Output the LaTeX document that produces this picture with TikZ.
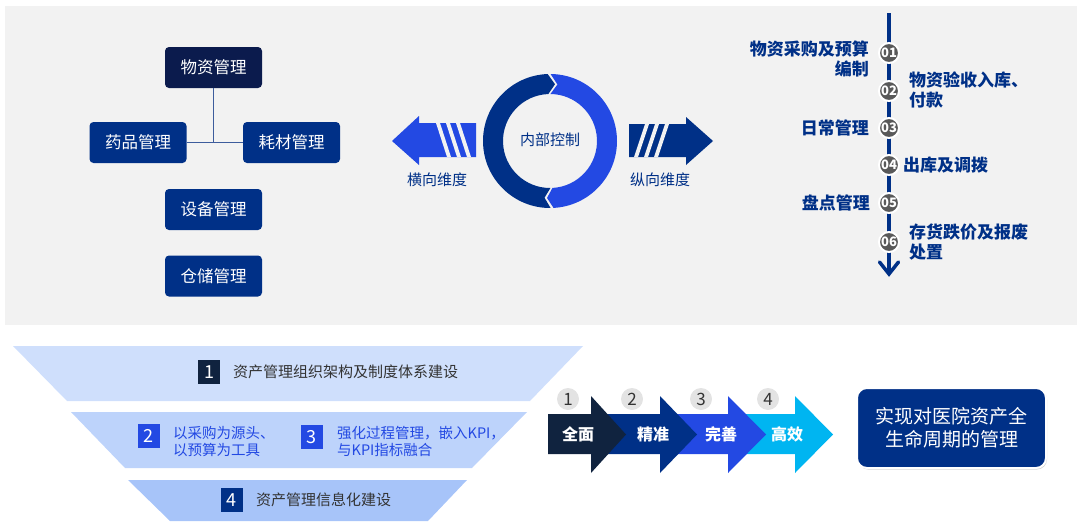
\documentclass[tikz,border=0pt]{standalone}
\usepackage{fontspec}
\setmainfont{Noto Sans CJK SC}
\usetikzlibrary{shadows}
\definecolor{bg}{HTML}{F2F2F2}
\definecolor{navy}{HTML}{0B1B4D}
\definecolor{dblue}{HTML}{003087}
\definecolor{bblue}{HTML}{2349E3}
\definecolor{slate}{HTML}{10233F}
\definecolor{cyanA}{HTML}{00B5F1}
\definecolor{fA}{HTML}{CFDFFC}
\definecolor{fB}{HTML}{BDD3FB}
\definecolor{fC}{HTML}{A7C4F9}
\definecolor{tgray}{HTML}{595959}
\definecolor{txt}{HTML}{333333}
\definecolor{cgray}{HTML}{E3E3E3}
\definecolor{conn}{HTML}{3D5C9C}
\begin{document}
\begin{tikzpicture}[x=1pt,y=-1pt,
  mbox/.style={rounded corners=4pt, minimum width=97pt, minimum height=41pt, text=white, inner sep=0pt, font=\fontsize{16.5}{19}\selectfont},
  tnum/.style={circle, fill=tgray, draw=white, line width=2pt, minimum size=20pt, inner sep=0pt, text=white, font=\bfseries\fontsize{13}{13}\selectfont},
  tlab/.style={text=dblue, inner sep=0pt, font=\bfseries\fontsize{17}{20}\selectfont},
  dimlab/.style={text=dblue, inner sep=0pt, font=\fontsize{15}{18}\selectfont},
  nbox/.style={minimum width=22pt, minimum height=24pt, inner sep=0pt, text=white, font=\fontsize{18}{18}\selectfont},
  ftxt/.style={anchor=west, inner sep=0pt, font=\fontsize{15}{17}\selectfont},
  alab/.style={text=white, inner sep=0pt, font=\bfseries\fontsize{16}{16}\selectfont},
  acirc/.style={circle, fill=cgray, minimum size=22pt, inner sep=0pt, text=txt, font=\fontsize{17}{17}\selectfont},
]
\useasboundingbox (0,0) rectangle (1080,525);
\fill[bg] (5,6) rectangle (1077,325);

% ---- left tree ----
\node[mbox, fill=navy] (wz) at (213.5,67.5) {物资管理};
\node[mbox, fill=dblue] (yp) at (138,142.5) {药品管理};
\node[mbox, fill=dblue] (hc) at (291.5,142.5) {耗材管理};
\node[mbox, fill=dblue] (sb) at (213.5,209.5) {设备管理};
\node[mbox, fill=dblue] (cc) at (213.5,276) {仓储管理};
\coordinate (jn) at (213.5,142.5);
\draw[conn, line width=1.5pt] (wz.south) -- (jn);
\draw[conn, line width=1.5pt] (yp.east) -- (hc.west);

% ---- ring ----
\begin{scope}[shift={(550,141)}]
\fill[dblue] (-270.5:67) arc[start angle=-270.5, end angle=-92, radius=67] -- (-85:57) -- (-92:47) arc[start angle=-92, end angle=-270.5, radius=47] -- (-264.5:57) -- cycle;
\fill[bblue] (-89.5:67) arc[start angle=-89.5, end angle=87, radius=67] -- (93:57) -- (87:47) arc[start angle=87, end angle=-89.5, radius=47] -- (-82.5:57) -- cycle;
\end{scope}
\node[dimlab] (nk) at (550,140) {内部控制};

% left arrow
\fill[bblue] (392,141) -- (419,116) -- (419,123) -- (476,123) -- (476,157) -- (419,157) -- (419,165) -- cycle;
\foreach \t in {436,446,456}{
  \fill[bg] (\t,123) -- (\t+4,123) -- (\t+15,157) -- (\t+11,157) -- cycle;
}
\node[dimlab] (hx) at (437,180) {横向维度};
% right arrow
\fill[dblue] (629,124) -- (686,124) -- (686,117) -- (713,141) -- (686,165) -- (686,157) -- (629,157) -- cycle;
\foreach \b in {634,644,654}{
  \fill[bg] (\b,157) -- (\b+4,157) -- (\b+15,124) -- (\b+11,124) -- cycle;
}
\node[dimlab] (zx) at (660,180) {纵向维度};

% ---- timeline ----
\coordinate (ttop) at (889,13);
\coordinate (tbot) at (889,274);
\coordinate (tl) at (879.5,262);
\coordinate (tr) at (898.5,262);
\draw[dblue, line width=3.5pt] (ttop) -- (tbot);
\draw[dblue, line width=3.5pt, line cap=round, line join=miter] (tl) -- (tbot) -- (tr);
\node[tnum] (t1) at (889,53) {01};
\node[tnum] (t2) at (889,91) {02};
\node[tnum] (t3) at (889,128) {03};
\node[tnum] (t4) at (889,165) {04};
\node[tnum] (t5) at (889,203) {05};
\node[tnum] (t6) at (889,242) {06};
\node[tlab, anchor=east, align=right] (l1) at (869,58.5) {物资采购及预算\\编制};
\node[tlab, anchor=west, align=left] (l2) at (909,90) {物资验收入库、\\付款};
\node[tlab, anchor=east] (l3) at (869,128) {日常管理};
\node[tlab, anchor=west] (l4) at (903,165) {出库及调拨};
\node[tlab, anchor=east] (l5) at (870,203) {盘点管理};
\node[tlab, anchor=west, align=left] (l6) at (909,242) {存货跌价及报废\\处置};

% ---- funnel ----
\fill[fA] (13,346) -- (583,346) -- (530,401) -- (67,401) -- cycle;
\fill[fB] (71,412) -- (527,412) -- (472,468) -- (125,468) -- cycle;
\fill[fC] (128,480) -- (467,480) -- (428,521) -- (170,521) -- cycle;
\node[nbox, fill=slate] (n1) at (209,372) {1};
\node[ftxt, text=txt] (f1) at (233,372) {资产管理组织架构及制度体系建设};
\node[nbox, fill=bblue] (n2) at (148.5,436) {2};
\node[ftxt, text=bblue, align=left, font=\fontsize{14.5}{17}\selectfont] (f2) at (173,441.5) {以采购为源头、\\以预算为工具};
\node[nbox, fill=bblue] (n3) at (311.5,437) {3};
\node[ftxt, text=bblue, align=left, font=\fontsize{14.5}{17}\selectfont] (f3) at (337,441.5) {强化过程管理，嵌入KPI，\\与KPI指标融合};
\node[nbox, fill=dblue] (n4) at (231.5,500) {4};
\node[ftxt, text=txt] (f4) at (256,500) {资产管理信息化建设};

% ---- chevron arrows ----
\fill[cyanA] (728,414) -- (795,414) -- (795,396) -- (833,434.5) -- (795,473) -- (795,454) -- (728,454) -- cycle;
\fill[bblue] (660,414) -- (728,414) -- (728,396) -- (766,434.5) -- (728,473) -- (728,454) -- (660,454) -- cycle;
\fill[dblue] (591,414) -- (660,414) -- (660,396) -- (697,434.5) -- (660,473) -- (660,454) -- (591,454) -- cycle;
\fill[slate] (548,414) -- (591,414) -- (591,396) -- (626,434.5) -- (591,473) -- (591,454) -- (548,454) -- cycle;
\node[alab] (a1) at (578,434) {全面};
\node[alab] (a2) at (653,434) {精准};
\node[alab] (a3) at (721,434) {完善};
\node[alab] (a4) at (787,434) {高效};
\node[acirc] (c1) at (568,399) {1};
\node[acirc] (c2) at (632,399) {2};
\node[acirc] (c3) at (701,399) {3};
\node[acirc] (c4) at (768,399) {4};

% ---- result box ----
\node[rounded corners=10pt, minimum width=189pt, minimum height=80pt, fill=dblue, draw=white, line width=2pt,
  drop shadow={shadow xshift=1pt, shadow yshift=-1.5pt, opacity=0.35},
  text=white, align=center, inner sep=0pt, font=\fontsize{19}{23}\selectfont] (res) at (951.5,428) {实现对医院资产全\\生命周期的管理};
\end{tikzpicture}
\end{document}
